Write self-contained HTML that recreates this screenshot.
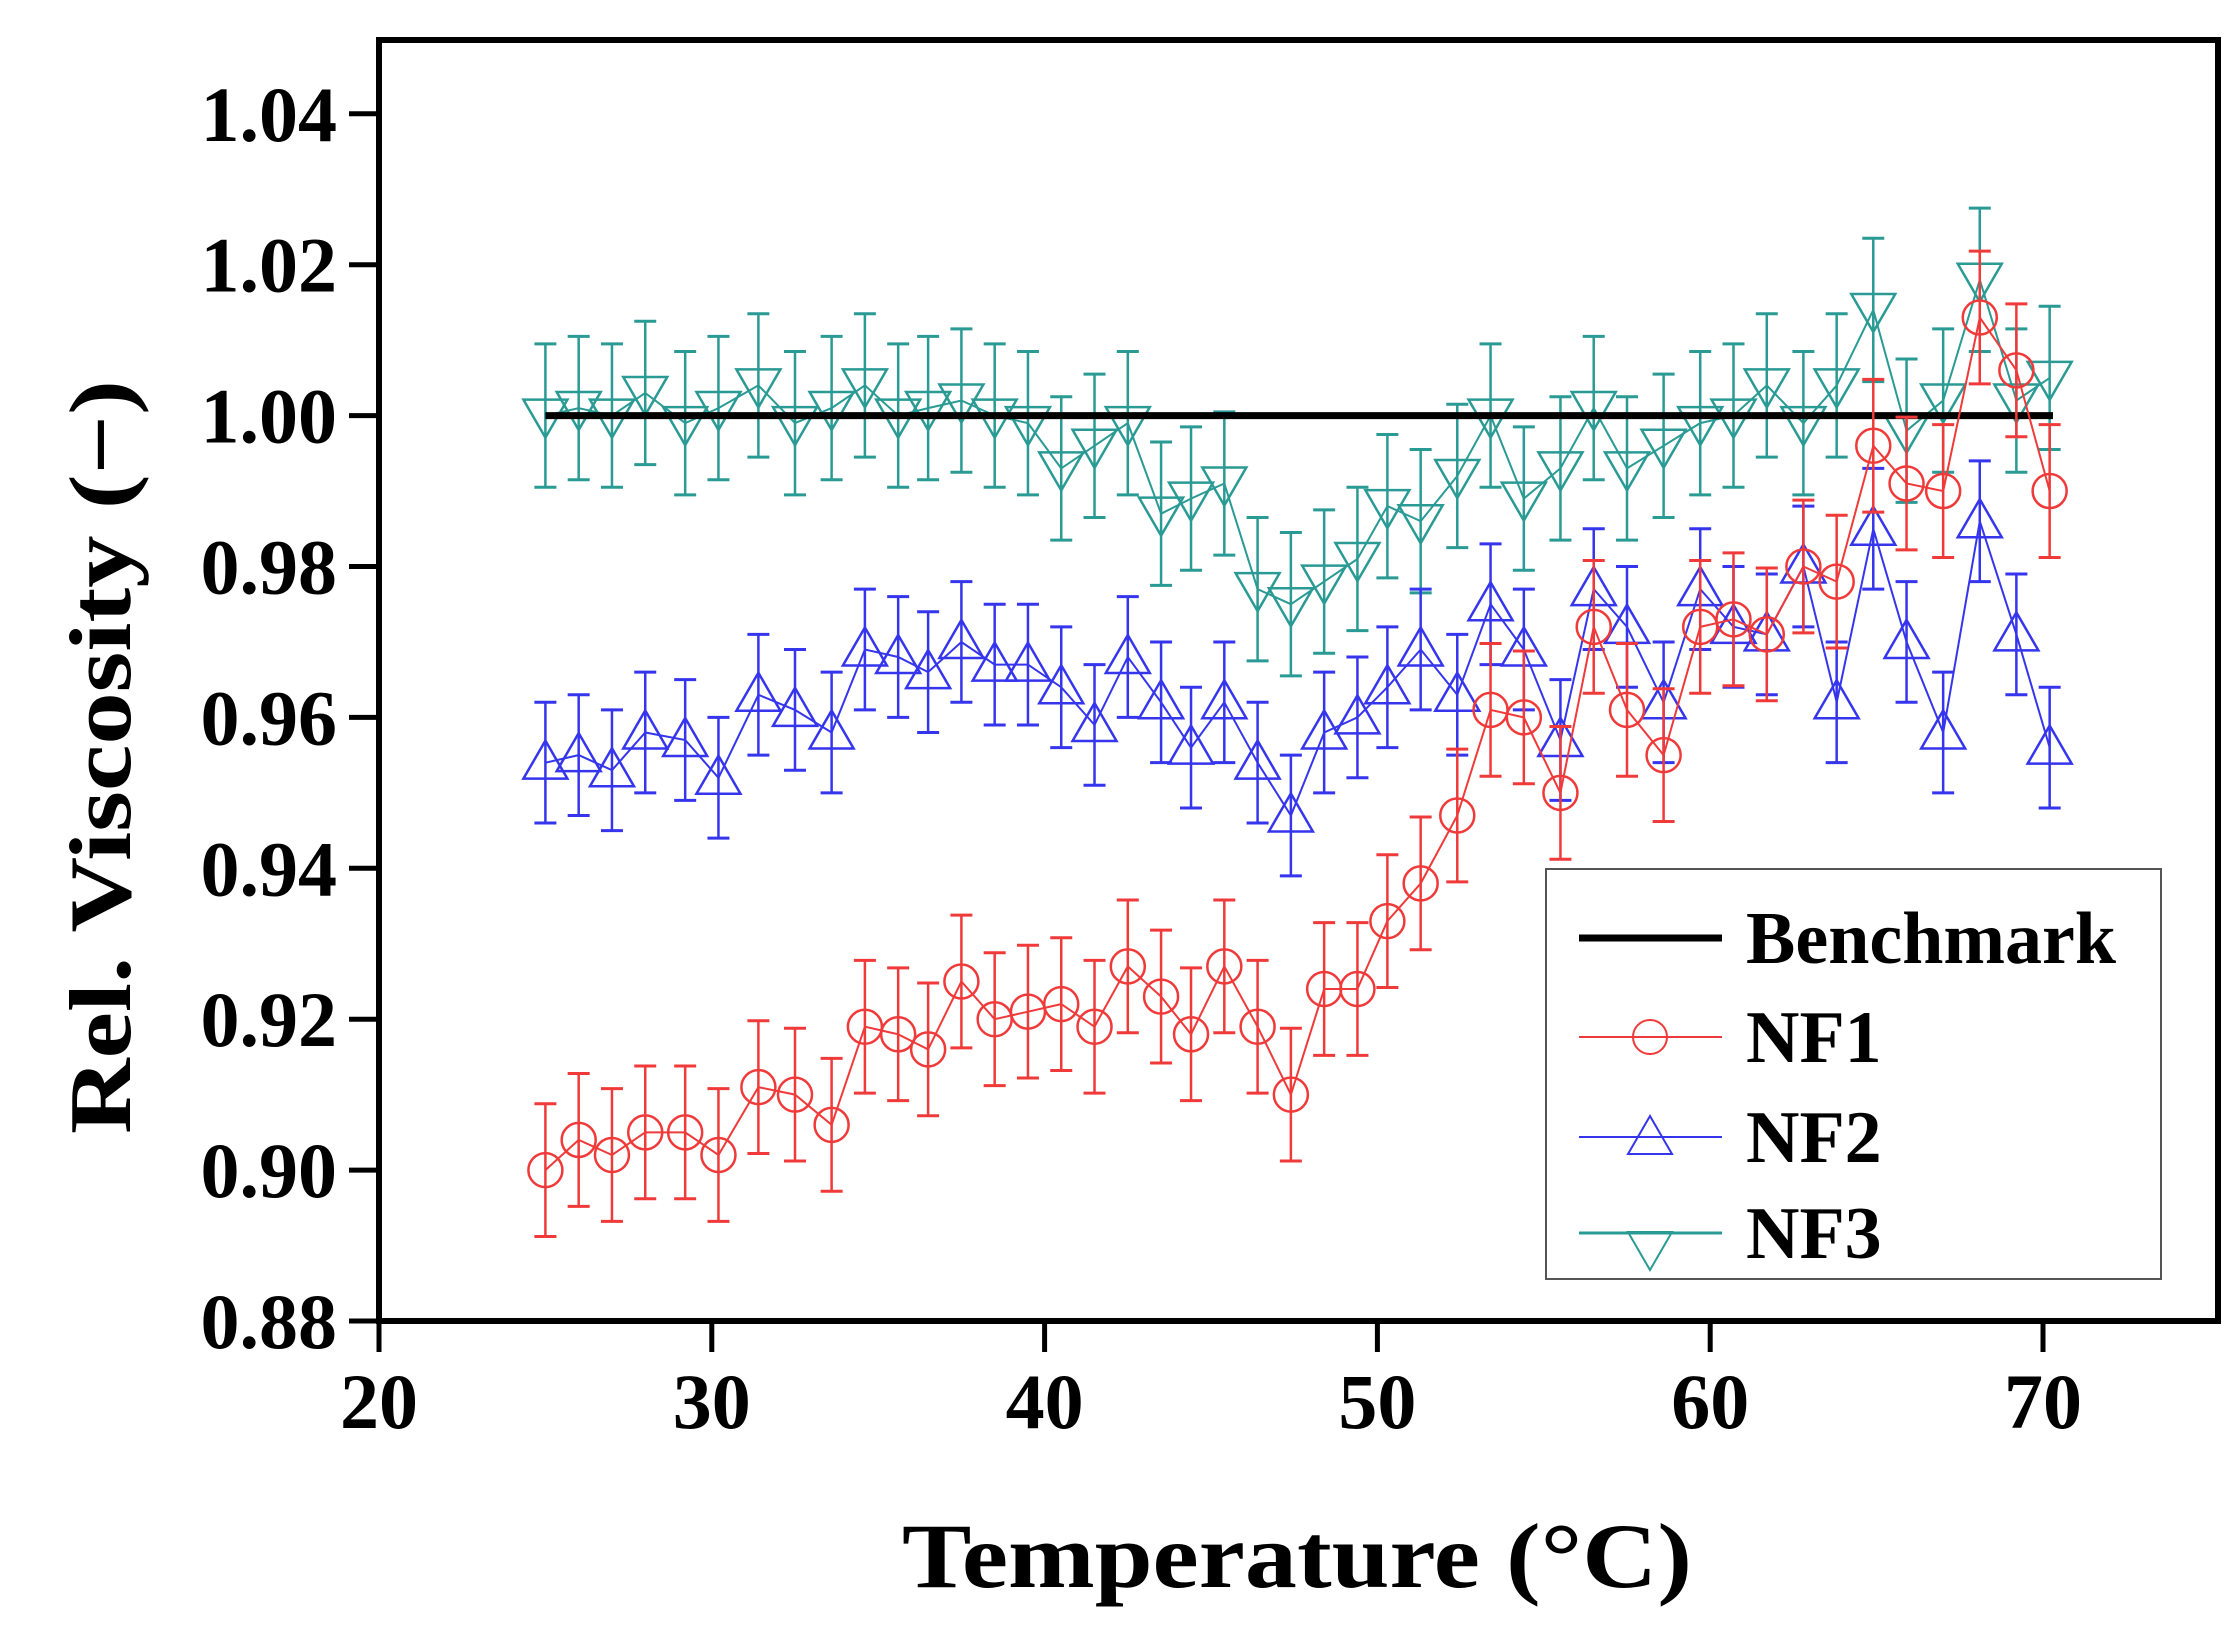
<!DOCTYPE html>
<html><head><meta charset="utf-8"><style>html,body{margin:0;padding:0;background:#fff}svg{display:block}</style></head>
<body>
<svg id="s" width="2238" height="1638" viewBox="0 0 2238 1638" xmlns="http://www.w3.org/2000/svg" font-family="Liberation Serif, serif" font-weight="bold">
<g id="data"></g>
<rect x="379" y="40" width="1839" height="1281" fill="none" stroke="#000" stroke-width="6"/>
<g stroke="#000" stroke-width="5" id="ticks"></g>
<g font-size="78" fill="#000" id="labels"></g>
<text transform="translate(130,757) rotate(-90)" text-anchor="middle" font-size="88" textLength="754" lengthAdjust="spacingAndGlyphs">Rel. Viscosity (−)</text>
<text x="1297" y="1587" text-anchor="middle" font-size="92" textLength="790" lengthAdjust="spacingAndGlyphs">Temperature (°C)</text>
<g id="legend">
<rect x="1546" y="869" width="615" height="410" fill="#fff" stroke="#555" stroke-width="2"/>
<line x1="1579" y1="938" x2="1722" y2="938" stroke="#000" stroke-width="7"/>
<text x="1746" y="963" font-size="74">Benchmark</text>
<line x1="1579" y1="1037" x2="1722" y2="1037" stroke="#f03a3a" stroke-width="2"/>
<circle cx="1650" cy="1037" r="17" fill="none" stroke="#f03a3a" stroke-width="2"/>
<text x="1746" y="1062" font-size="74">NF1</text>
<line x1="1579" y1="1137" x2="1722" y2="1137" stroke="#3535ee" stroke-width="2"/>
<polygon points="1650,1116 1672,1154 1628,1154" fill="none" stroke="#3535ee" stroke-width="2"/>
<text x="1746" y="1162" font-size="74">NF2</text>
<line x1="1579" y1="1233" x2="1722" y2="1233" stroke="#2a9a94" stroke-width="3"/>
<polygon points="1650,1270 1672,1232 1628,1232" fill="none" stroke="#2a9a94" stroke-width="2"/>
<text x="1746" y="1258" font-size="74">NF3</text>
</g>
</svg>
<script>
const X=t=>379+(t-20)*33.28, Y=v=>1321-(v-0.88)/0.02*150.9;
const T=[25,26,27,28,29.2,30.2,31.4,32.5,33.6,34.6,35.6,36.5,37.5,38.5,39.5,40.5,41.5,42.5,43.5,44.4,45.4,46.4,47.4,48.4,49.4,50.3,51.3,52.4,53.4,54.4,55.5,56.5,57.5,58.6,59.7,60.7,61.7,62.8,63.8,64.9,65.9,67,68.1,69.2,70.2];
const NF1=[0.900,0.904,0.902,0.905,0.905,0.902,0.911,0.910,0.906,0.919,0.918,0.916,0.925,0.920,0.921,0.922,0.919,0.927,0.923,0.918,0.927,0.919,0.910,0.924,0.924,0.933,0.938,0.947,0.961,0.960,0.950,0.972,0.961,0.955,0.972,0.973,0.971,0.980,0.978,0.996,0.991,0.990,1.013,1.006,0.990];
const NF2=[0.954,0.955,0.953,0.958,0.957,0.952,0.963,0.961,0.958,0.969,0.968,0.966,0.970,0.967,0.967,0.964,0.959,0.968,0.962,0.956,0.962,0.954,0.947,0.958,0.960,0.964,0.969,0.963,0.975,0.969,0.957,0.977,0.972,0.962,0.977,0.972,0.971,0.980,0.962,0.985,0.970,0.958,0.986,0.971,0.956];
const NF3=[1.000,1.001,1.000,1.003,0.999,1.001,1.004,0.999,1.001,1.004,1.000,1.001,1.002,1.000,0.999,0.993,0.996,0.999,0.987,0.989,0.991,0.977,0.975,0.978,0.981,0.988,0.986,0.992,1.000,0.989,0.993,1.001,0.993,0.996,0.999,1.000,1.004,0.999,1.004,1.014,0.998,1.002,1.018,1.002,1.005];
let h='';
function series(vals,col,err,mk){
  let pts=T.map((t,i)=>X(t).toFixed(1)+','+Y(vals[i]).toFixed(1)).join(' ');
  let s=`<polyline points="${pts}" fill="none" stroke="${col}" stroke-width="2"/>`;
  T.forEach((t,i)=>{const x=X(t),y=Y(vals[i]),a=Y(vals[i]+err),b=Y(vals[i]-err);
    s+=`<line x1="${x}" y1="${a}" x2="${x}" y2="${b}" stroke="${col}" stroke-width="2.5"/><line x1="${x-11}" y1="${a}" x2="${x+11}" y2="${a}" stroke="${col}" stroke-width="3"/><line x1="${x-11}" y1="${b}" x2="${x+11}" y2="${b}" stroke="${col}" stroke-width="3"/>`;
    if(mk=='c') s+=`<circle cx="${x}" cy="${y}" r="17" fill="none" stroke="${col}" stroke-width="2.5"/>`;
    else if(mk=='u') s+=`<polygon points="${x},${y-22} ${x+22},${y+16} ${x-22},${y+16}" fill="none" stroke="${col}" stroke-width="2.5"/>`;
    else s+=`<polygon points="${x},${y+22} ${x+22},${y-16} ${x-22},${y-16}" fill="none" stroke="${col}" stroke-width="2.5"/>`;
  });
  return s;
}
h+=series(NF3,'#2a9a94',0.0095,'d');
h+=`<line x1="${X(25)}" y1="${Y(1)}" x2="${X(70.3)}" y2="${Y(1)}" stroke="#000" stroke-width="7"/>`;
h+=series(NF2,'#3535ee',0.008,'u');
h+=series(NF1,'#f03a3a',0.0088,'c');
document.getElementById('data').innerHTML=h;
let tk='',lb='';
for(let t=20;t<=70;t+=10){const x=X(t);tk+=`<line x1="${x}" y1="1321" x2="${x}" y2="1352"/>`;lb+=`<text x="${x}" y="1428" text-anchor="middle">${t}</text>`;}
for(let k=0;k<=8;k++){const v=0.88+k*0.02,y=Y(v);tk+=`<line x1="349" y1="${y}" x2="379" y2="${y}"/>`;lb+=`<text x="337" y="${y+27}" text-anchor="end">${v.toFixed(2)}</text>`;}
document.getElementById('ticks').innerHTML=tk;
document.getElementById('labels').innerHTML=lb;
</script>
</body></html>
